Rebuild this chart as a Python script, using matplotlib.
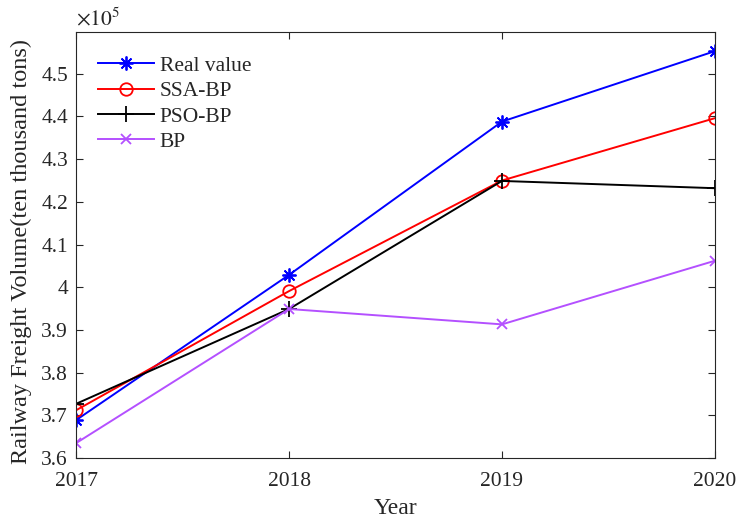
import matplotlib
matplotlib.use("Agg")
import matplotlib.pyplot as plt
from matplotlib.ticker import FuncFormatter

plt.rcParams["font.family"] = ["Liberation Serif", "DejaVu Serif"]
plt.rcParams["mathtext.fontset"] = "stix"

# railway freight volume, ten thousand tons
years = [2017, 2018, 2019, 2020]
real_value = [368900, 402900, 438800, 455300]
ssa_bp = [371200, 399100, 425000, 439600]
pso_bp = [372700, 394900, 424900, 423200]
bp = [363500, 394900, 391300, 406200]

fig = plt.figure(figsize=(7.4, 5.24), dpi=100)
ax = fig.add_axes([0.103, 0.126, 0.863, 0.813])

# (8, 2, 0) -> eight-armed asterisk, like '+' and 'x' overlaid
ax.plot(years, real_value, color="#0000ff", marker=(8, 2, 0), ms=10, mew=1.3, lw=1.4,
        label="Real value")
ax.plot(years, ssa_bp, color="#ff0000", marker="o", ms=9, mfc="none", mew=1.3, lw=1.4,
        label="SSA-BP")
ax.plot(years, pso_bp, color="black", marker="+", ms=11, mew=1.3, lw=1.4, label="PSO-BP")
ax.plot(years, bp, color="#b450ff", marker="x", ms=7, mew=1.3, lw=1.4, label="BP")

ax.set_xlim(2017, 2020)
ax.set_ylim(3.6e5, 4.598e5)
ax.set_xticks(years)
ax.set_yticks([3.6e5 + i * 0.1e5 for i in range(10)])
ax.yaxis.set_major_formatter(FuncFormatter(lambda v, p: "%g" % round(v / 1e5, 2)))
ax.tick_params(direction="in", top=True, right=True, labelsize=15.5, length=5,
               width=0.8, colors="#262626")
ax.tick_params(axis="x", pad=10)
ax.tick_params(axis="y", pad=6)
for s in ax.spines.values():
    s.set_linewidth(0.8)
    s.set_color("#262626")

ax.text(0.0, 1.003, r"$\times10^5$", transform=ax.transAxes, fontsize=15.5,
        ha="left", va="bottom", color="#262626")
ax.set_xlabel("Year", fontsize=17, labelpad=5, color="#262626")
ax.set_ylabel("Railway Freight Volume(ten thousand tons)", fontsize=17.5, color="#262626")
ax.yaxis.set_label_coords(-0.069, 0.484)

leg = ax.legend(loc="upper left", frameon=False, fontsize=15.5, handlelength=2.6,
                borderaxespad=0.5, labelspacing=0.25, handletextpad=0.25,
                bbox_to_anchor=(0.004, 0.99))
for t in leg.get_texts():
    t.set_color("#262626")

fig.savefig("out.png", dpi=100)
